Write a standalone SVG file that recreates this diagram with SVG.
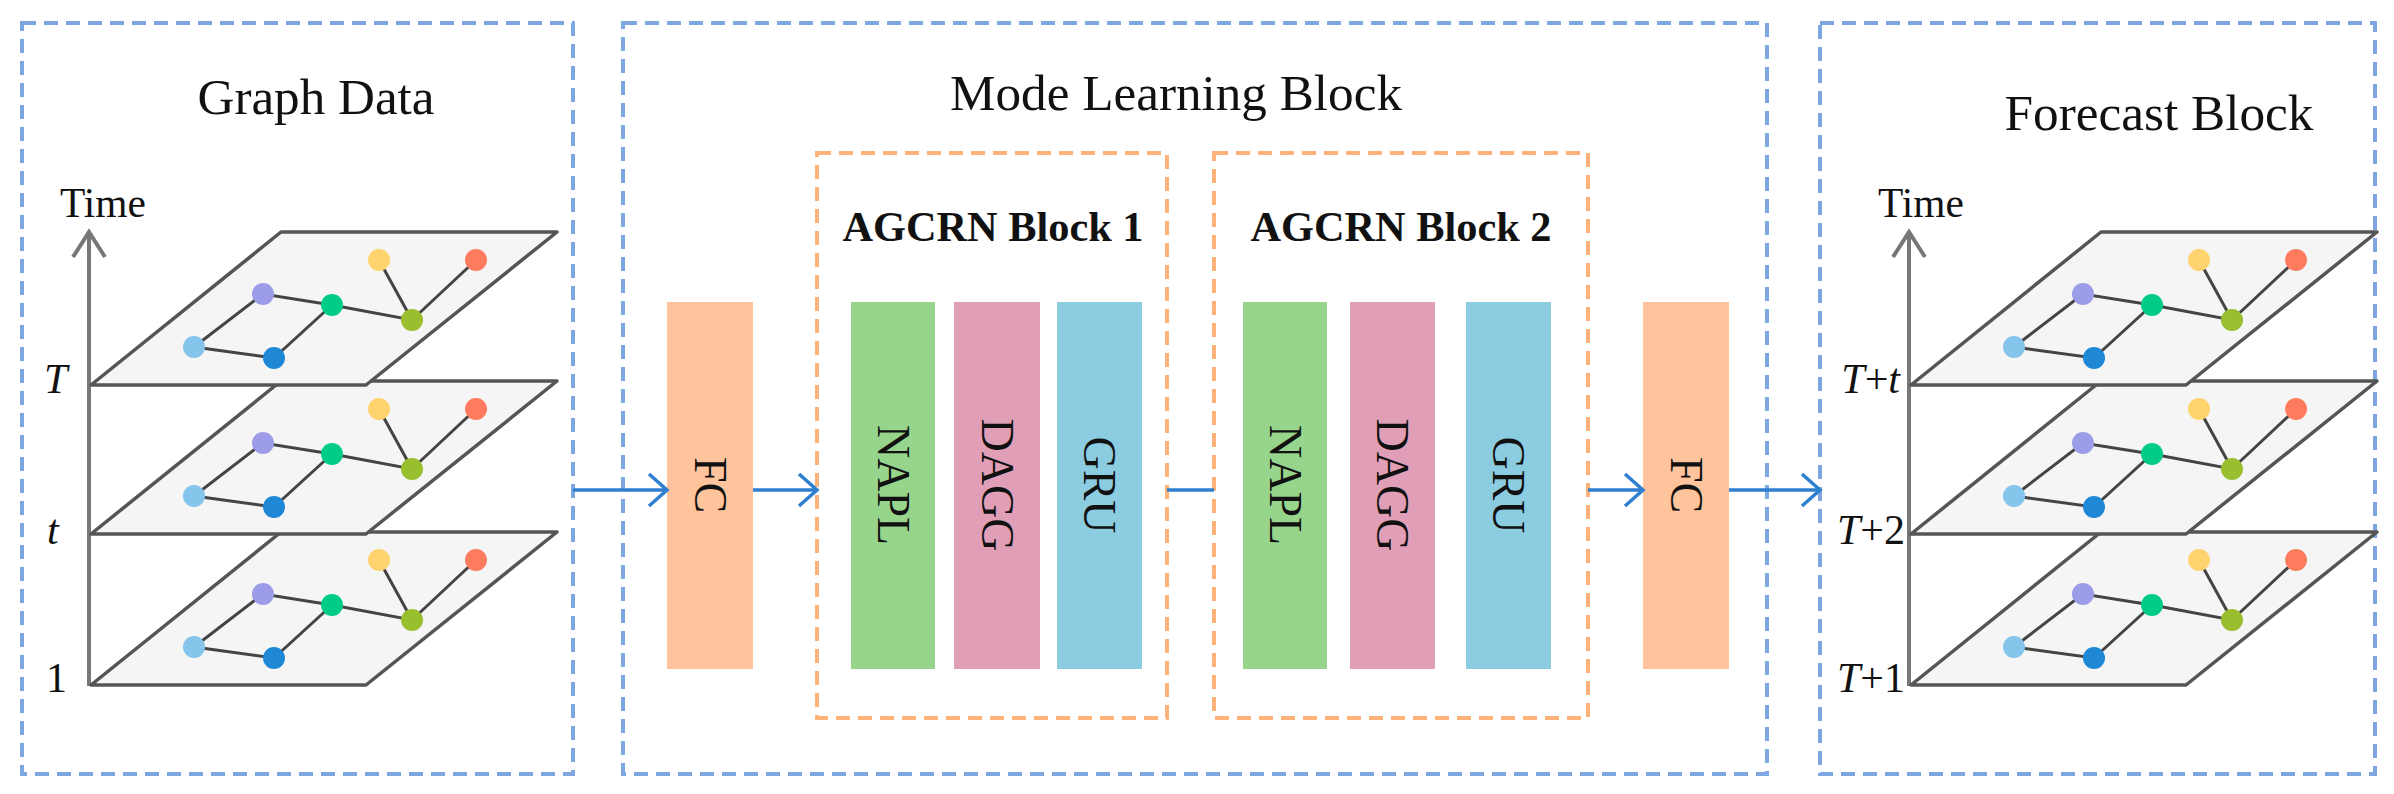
<svg xmlns="http://www.w3.org/2000/svg" xmlns:xlink="http://www.w3.org/1999/xlink" width="2394" height="794" viewBox="0 0 2394 794">
<style>
.blue{fill:none;stroke:#7EA6E0;stroke-width:4;stroke-dasharray:14 8}
.orange{fill:none;stroke:#FFB27A;stroke-width:4;stroke-dasharray:14 8}
.title{font-family:"Liberation Serif",serif;font-size:50px;fill:#111;text-anchor:middle}
.bt{font-family:"Liberation Serif",serif;font-size:42px;font-weight:bold;fill:#111;text-anchor:middle}
.lab{font-family:"Liberation Serif",serif;font-size:46px;fill:#111;text-anchor:middle;dominant-baseline:central}
.ax{font-family:"Liberation Serif",serif;font-size:42px;fill:#111}
.plane{fill:#F5F5F5;stroke:#555;stroke-width:3.5;stroke-linejoin:round}
.edge{stroke:#444;stroke-width:3;fill:none}
.axis{stroke:#777;stroke-width:4;fill:none}
.conn{stroke:#2F7FD0;stroke-width:3.5;fill:none}
</style>
<defs>
<marker id="arr" markerUnits="userSpaceOnUse" markerWidth="30" markerHeight="40" refX="24" refY="20" orient="auto">
<path d="M6,4 L24,20 L6,36" fill="none" stroke="#2F7FD0" stroke-width="3.5"/>
</marker>
<g id="plane">
<polygon class="plane" points="0,0 275,0 466,-153 190,-153"/>
<path class="edge" d="M103,-38 L172,-91 L241,-80 L321,-65 L385,-125 M103,-38 L183,-27 L241,-80 M321,-65 L288,-125"/>
<circle cx="103" cy="-38" r="11" fill="#85C5EC"/>
<circle cx="172" cy="-91" r="11" fill="#9C9CE8"/>
<circle cx="183" cy="-27" r="11" fill="#1F88D6"/>
<circle cx="241" cy="-80" r="11" fill="#00CC88"/>
<circle cx="321" cy="-65" r="11" fill="#99BE2E"/>
<circle cx="288" cy="-125" r="11" fill="#FFD36E"/>
<circle cx="385" cy="-125" r="11" fill="#FF7B5E"/>
</g>
</defs>

<g id="graph-data">
<rect class="blue" x="22" y="23" width="551" height="751"/>
<text class="title" x="316" y="114" textLength="237" lengthAdjust="spacingAndGlyphs">Graph Data</text>
<path class="axis" d="M89,686 L89,232 M73,257 L89,232 L105,257"/>
<text class="ax" x="60" y="217" textLength="86" lengthAdjust="spacingAndGlyphs">Time</text>
<use xlink:href="#plane" x="91" y="685"/>
<use xlink:href="#plane" x="91" y="534"/>
<use xlink:href="#plane" x="91" y="385"/>
<text class="ax" x="44" y="393" font-style="italic">T</text>
<text class="ax" x="47" y="544" font-style="italic">t</text>
<text class="ax" x="46" y="692">1</text>
</g>

<g id="mode-learning">
<rect class="blue" x="623" y="23" width="1144" height="751"/>
<text class="title" x="1176" y="110" textLength="452" lengthAdjust="spacingAndGlyphs">Mode Learning Block</text>
</g>
<g id="agcrn1">
<rect class="orange" x="817" y="153" width="350" height="565"/>
<text class="bt" x="993" y="241" textLength="301" lengthAdjust="spacingAndGlyphs">AGCRN Block 1</text>
</g>
<g id="agcrn2">
<rect class="orange" x="1214" y="153" width="374" height="565"/>
<text class="bt" x="1401" y="241" textLength="301" lengthAdjust="spacingAndGlyphs">AGCRN Block 2</text>
</g>
<g id="fc1"><rect x="667" y="302" width="86" height="367" fill="#FFC49C"/><text class="lab" transform="translate(710,485) rotate(90)">FC</text></g>
<g id="napl1"><rect x="851" y="302" width="84" height="367" fill="#98D58C"/><text class="lab" transform="translate(893,485) rotate(90)">NAPL</text></g>
<g id="dagg1"><rect x="954" y="302" width="86" height="367" fill="#E19FB7"/><text class="lab" transform="translate(997,485) rotate(90)">DAGG</text></g>
<g id="gru1"><rect x="1057" y="302" width="85" height="367" fill="#8BCCE0"/><text class="lab" transform="translate(1099,485) rotate(90)">GRU</text></g>
<g id="napl2"><rect x="1243" y="302" width="84" height="367" fill="#98D58C"/><text class="lab" transform="translate(1285,485) rotate(90)">NAPL</text></g>
<g id="dagg2"><rect x="1350" y="302" width="85" height="367" fill="#E19FB7"/><text class="lab" transform="translate(1392,485) rotate(90)">DAGG</text></g>
<g id="gru2"><rect x="1466" y="302" width="85" height="367" fill="#8BCCE0"/><text class="lab" transform="translate(1508,485) rotate(90)">GRU</text></g>
<g id="fc2"><rect x="1643" y="302" width="86" height="367" fill="#FFC49C"/><text class="lab" transform="translate(1686,485) rotate(90)">FC</text></g>

<g id="forecast">
<rect class="blue" x="1820" y="23" width="555" height="751"/>
<text class="title" x="2159" y="130" textLength="309" lengthAdjust="spacingAndGlyphs">Forecast Block</text>
<path class="axis" d="M1909,686 L1909,232 M1893,257 L1909,232 L1925,257"/>
<text class="ax" x="1878" y="217" textLength="86" lengthAdjust="spacingAndGlyphs">Time</text>
<use xlink:href="#plane" x="1911" y="685"/>
<use xlink:href="#plane" x="1911" y="534"/>
<use xlink:href="#plane" x="1911" y="385"/>
<text class="ax" x="1900" y="393" text-anchor="end"><tspan font-style="italic">T</tspan>+<tspan font-style="italic">t</tspan></text>
<text class="ax" x="1905" y="544" text-anchor="end"><tspan font-style="italic">T</tspan>+2</text>
<text class="ax" x="1905" y="692" text-anchor="end"><tspan font-style="italic">T</tspan>+1</text>
</g>

<g id="connectors">
<line class="conn" x1="573" y1="490" x2="667" y2="490" marker-end="url(#arr)"/>
<line class="conn" x1="753" y1="490" x2="817" y2="490" marker-end="url(#arr)"/>
<line class="conn" x1="1167" y1="490" x2="1214" y2="490"/>
<line class="conn" x1="1588" y1="490" x2="1643" y2="490" marker-end="url(#arr)"/>
<line class="conn" x1="1729" y1="490" x2="1820" y2="490" marker-end="url(#arr)"/>
</g>
</svg>
